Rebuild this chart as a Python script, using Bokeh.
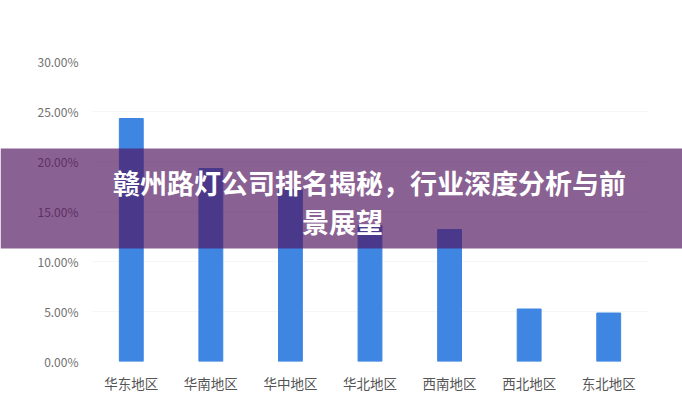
from bokeh.plotting import figure
from bokeh.models import NumeralTickFormatter, Label, FixedTicker, Range1d
from bokeh.embed import file_html
from bokeh.resources import INLINE

regions = ["华东地区", "华南地区", "华中地区", "华北地区", "西南地区", "西北地区", "东北地区"]
shares = [0.243, 0.193, 0.172, 0.136, 0.132, 0.0525, 0.0485]
y_ticks = [0.0, 0.05, 0.10, 0.15, 0.20, 0.25, 0.30]
title_line1 = "赣州路灯公司排名揭秘，行业深度分析与前"
title_line2 = "景展望"

W, H = 682, 400

p = figure(x_range=regions, y_range=Range1d(0, 0.30), width=W, height=H,
           output_backend="svg", toolbar_location=None, tools="",
           min_border_left=91, min_border_right=34, min_border_top=61, min_border_bottom=39)

p.vbar(x=regions, top=shares, width=0.3, color="#3f86e2")

p.outline_line_color = None
p.background_fill_color = "white"
p.border_fill_color = "white"
p.xgrid.grid_line_color = None
p.ygrid.grid_line_color = "#f6f6f6"

p.yaxis.ticker = FixedTicker(ticks=y_ticks)
p.yaxis.formatter = NumeralTickFormatter(format="0.00%")
p.yaxis.axis_line_color = None
p.yaxis.major_tick_line_color = None
p.yaxis.minor_tick_line_color = None
p.yaxis.major_tick_out = 0
p.yaxis.major_label_standoff = 13
p.yaxis.major_label_text_font = "Noto Sans CJK SC"
p.yaxis.major_label_text_font_size = "12px"
p.yaxis.major_label_text_color = "#707070"

p.xaxis.axis_line_color = None
p.xaxis.major_tick_line_color = None
p.xaxis.minor_tick_line_color = None
p.xaxis.major_tick_out = 0
p.xaxis.major_label_standoff = 11
p.xaxis.major_label_text_font = "Noto Sans CJK SC"
p.xaxis.major_label_text_font_size = "13.5px"
p.xaxis.major_label_text_color = "#555555"

# transparent overlay figure spanning the whole canvas: purple banner + title
ov = figure(x_range=Range1d(0, W), y_range=Range1d(H, 0), width=W, height=H,
            output_backend="svg", toolbar_location=None, tools="",
            x_axis_location=None, y_axis_location=None, min_border=0)
ov.grid.grid_line_color = None
ov.outline_line_color = None
ov.background_fill_alpha = 0
ov.border_fill_alpha = 0
ov.quad(left=0, right=W, top=148, bottom=248,
        fill_color="#50145e", fill_alpha=0.67, line_color=None)
for txt, xx, yy in [(title_line1, 369, 182), (title_line2, 342, 221)]:
    ov.add_layout(Label(x=xx, y=yy, text=txt,
                        text_align="center", text_baseline="middle",
                        text_font="Noto Sans CJK SC", text_font_style="bold",
                        text_font_size="27px", text_color="white"))
ov.styles = {"margin-top": "-400px"}

open("out.html", "w").write(file_html([p, ov], INLINE))
